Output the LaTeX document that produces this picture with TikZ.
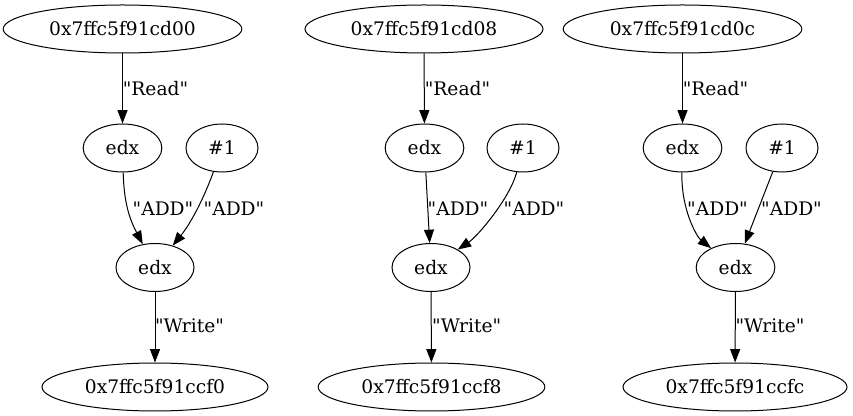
\documentclass[tikz,border=0pt]{standalone}
\usepackage{fontspec}
\setmainfont{DejaVu Serif}[Ligatures=TeXOff]
\usetikzlibrary{shapes.geometric,arrows.meta}
\begin{document}
\begin{tikzpicture}[x=0.75pt,y=-0.75pt,
  every node/.style={font=\fontsize{14}{16}\selectfont},
  nd/.style={draw,ellipse,inner sep=0pt,minimum height=36pt,line width=0.75pt},
  lbl/.style={inner sep=0pt},
  edge/.style={draw,line width=0.75pt,-{Triangle[length=10pt,width=7.5pt]}}]
\useasboundingbox (0,0) rectangle (853,416);
% panel 1
\node[nd,minimum width=179pt] (a1) at (122.5,29) {0x7ffc5f91cd00};
\node[nd,minimum width=59pt] (e1) at (122.5,148) {edx};
\node[nd,minimum width=54pt] (h1) at (222,148) {\#1};
\node[nd,minimum width=58.5pt] (f1) at (155,267.5) {edx};
\node[nd,minimum width=169.5pt] (b1) at (155,387) {0x7ffc5f91ccf0};
% panel 2
\node[nd,minimum width=178.5pt] (a2) at (424,29) {0x7ffc5f91cd08};
\node[nd,minimum width=59pt] (e2) at (424.5,148) {edx};
\node[nd,minimum width=54pt] (h2) at (523,148) {\#1};
\node[nd,minimum width=58.5pt] (f2) at (431,267.5) {edx};
\node[nd,minimum width=170pt] (b2) at (431.5,387) {0x7ffc5f91ccf8};
% panel 3
\node[nd,minimum width=179pt] (a3) at (682.5,29) {0x7ffc5f91cd0c};
\node[nd,minimum width=59pt] (e3) at (682.5,148) {edx};
\node[nd,minimum width=54pt] (h3) at (782,148) {\#1};
\node[nd,minimum width=59pt] (f3) at (735.5,267.5) {edx};
\node[nd,minimum width=168pt] (b3) at (735,387) {0x7ffc5f91ccfc};
% edges panel 1
\draw[edge] (a1) -- (e1);
\draw[edge] (e1) .. controls (124,202) and (129,218) .. (f1);
\draw[edge] (h1) .. controls (204,198) and (191,223) .. (f1);
\draw[edge] (f1) -- (b1);
% edges panel 2
\draw[edge] (a2) -- (e2);
\draw[edge] (e2) -- (f2);
\draw[edge] (h2) .. controls (510,198) and (478,236) .. (f2);
\draw[edge] (f2) -- (b2);
% edges panel 3
\draw[edge] (a3) -- (e3);
\draw[edge] (e3) .. controls (681,210) and (697,237) .. (f3);
\draw[edge] (h3) -- (f3);
\draw[edge] (f3) -- (b3);
% labels
\node[lbl] (r1) at (155.5,89) {"Read"};
\node[lbl] (r2) at (457.5,89) {"Read"};
\node[lbl] (r3) at (715.5,89) {"Read"};
\node[lbl] (d1a) at (163,209) {"ADD"};
\node[lbl] (d1b) at (234,209) {"ADD"};
\node[lbl] (d2a) at (458,209) {"ADD"};
\node[lbl] (d2b) at (534,209) {"ADD"};
\node[lbl] (d3a) at (717.5,209) {"ADD"};
\node[lbl] (d3b) at (791.5,209) {"ADD"};
\node[lbl] (w1) at (189.5,326) {"Write"};
\node[lbl] (w2) at (466.7,326) {"Write"};
\node[lbl] (w3) at (770,326) {"Write"};
\end{tikzpicture}
\end{document}
